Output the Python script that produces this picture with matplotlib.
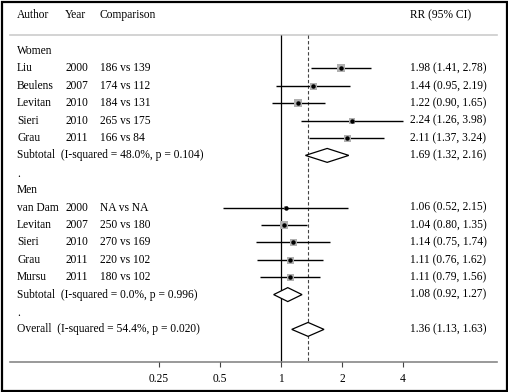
import numpy as np
import matplotlib
matplotlib.use("Agg")
import matplotlib.pyplot as plt
from matplotlib.patches import Polygon, Rectangle

plt.rcParams['font.family'] = ['Liberation Serif', 'DejaVu Serif']

# ---- data ----
women_authors = ["Liu", "Beulens", "Levitan", "Sieri", "Grau"]
women_years = ["2000", "2007", "2010", "2010", "2011"]
women_comp = ["186 vs 139", "174 vs 112", "184 vs 131", "265 vs 175", "166 vs 84"]
women_rr = [1.98, 1.44, 1.22, 2.24, 2.11]
women_lo = [1.41, 0.95, 0.90, 1.26, 1.37]
women_hi = [2.78, 2.19, 1.65, 3.98, 3.24]
women_w = [8, 7, 8, 6, 7]
women_sub = (1.69, 1.32, 2.16)
women_het = "(I-squared = 48.0%, p = 0.104)"

men_authors = ["van Dam", "Levitan", "Sieri", "Grau", "Mursu"]
men_years = ["2000", "2007", "2010", "2011", "2011"]
men_comp = ["NA vs NA", "250 vs 180", "270 vs 169", "220 vs 102", "180 vs 102"]
men_rr = [1.06, 1.04, 1.14, 1.11, 1.11]
men_lo = [0.52, 0.80, 0.75, 0.76, 0.79]
men_hi = [2.15, 1.35, 1.74, 1.62, 1.56]
men_w = [5, 8, 7, 7, 7]
men_sub = (1.08, 0.92, 1.27)
men_het = "(I-squared = 0.0%, p = 0.996)"

overall = (1.36, 1.13, 1.63)
overall_het = "(I-squared = 54.4%, p = 0.020)"

xticks = [0.25, 0.5, 1, 2, 4]
xticklabels = ["0.25", "0.5", "1", "2", "4"]

W, H = 508, 392
fig = plt.figure(figsize=(W / 100, H / 100), dpi=100)
ax = fig.add_axes([0, 0, 1, 1])
ax.set_xscale('log', base=2)
ppd = 61.0  # pixels per doubling
x1 = 281.0
ax.set_xlim(2 ** (-x1 / ppd), 2 ** ((W - x1) / ppd))
y0, dy = 51.0, 17.4
ax.set_ylim((H - y0) / dy, -y0 / dy)
ax.axis('off')

fs = 8.3
tr = ax.get_yaxis_transform()  # x in axes fraction, y in rows
cA, cY, cC, cR = 17 / W, 65 / W, 100 / W, 410 / W


def fmt(rr, lo, hi):
    return f"{rr:.2f} ({lo:.2f}, {hi:.2f})"


def diamond(row, rr, lo, hi):
    h = 0.4
    ax.add_patch(Polygon([(lo, row), (rr, row - h), (hi, row), (rr, row + h)],
                         closed=True, facecolor='white', edgecolor='black', lw=0.9, zorder=4))


# header
head_y = -2.07
ax.text(cA, head_y, "Author", transform=tr, fontsize=fs, va='center')
ax.text(cY, head_y, "Year", transform=tr, fontsize=fs, va='center')
ax.text(cC, head_y, "Comparison", transform=tr, fontsize=fs, va='center')
ax.text(cR, head_y, "RR (95% CI)", transform=tr, fontsize=fs, va='center')
ax.plot([10 / W, 497 / W], [-0.92, -0.92], transform=tr, color='#cccccc', lw=1.2)

axis_row = (362 - y0) / dy
ax.vlines(1, -0.92, axis_row, color='black', lw=0.9)
ax.vlines(overall[0], -0.92, axis_row, color='#444444', lw=0.8, linestyles=(0, (3, 2)))

groups = [
    ("Women", 0, women_authors, women_years, women_comp, women_rr, women_lo, women_hi, women_w, women_sub, women_het),
    ("Men", 8, men_authors, men_years, men_comp, men_rr, men_lo, men_hi, men_w, men_sub, men_het),
]
for name, start, au, yr, cp, rr, lo, hi, wt, sub, het in groups:
    ax.text(cA, start, name, transform=tr, fontsize=fs, va='center')
    for i in range(len(au)):
        r = start + 1 + i
        ax.text(cA, r, au[i], transform=tr, fontsize=fs, va='center')
        ax.text(cY, r, yr[i], transform=tr, fontsize=fs, va='center')
        ax.text(cC, r, cp[i], transform=tr, fontsize=fs, va='center')
        ax.text(cR, r, fmt(rr[i], lo[i], hi[i]), transform=tr, fontsize=fs, va='center')
        ax.hlines(r, lo[i], hi[i], color='black', lw=1.0, zorder=2)
        ax.plot(rr[i], r, 's', color='#b0b0b0', markersize=wt[i] * 0.72, markeredgewidth=0, zorder=3)
        ax.plot(rr[i], r, 'o', color='black', markersize=2.2, zorder=4)
    srow = start + 1 + len(au)
    ax.text(cA, srow, "Subtotal  " + het, transform=tr, fontsize=fs, va='center')
    ax.text(cR, srow, fmt(*sub), transform=tr, fontsize=fs, va='center')
    diamond(srow, *sub)
    ax.text(cA, srow + 1.05, ".", transform=tr, fontsize=fs, va='center')

orow = 16
ax.text(cA, orow, "Overall  " + overall_het, transform=tr, fontsize=fs, va='center')
ax.text(cR, orow, fmt(*overall), transform=tr, fontsize=fs, va='center')
diamond(orow, *overall)

# x axis
ax.plot([10 / W, 497 / W], [axis_row, axis_row], transform=tr, color='#888888', lw=1.2)
for t, lab in zip(xticks, xticklabels):
    ax.vlines(t, axis_row, axis_row + 0.3, color='#444444', lw=0.8)
    ax.text(t, axis_row + 0.95, lab, fontsize=fs, ha='center', va='center')

fig.add_artist(Rectangle((1.5 / W, 1.5 / H), 1 - 3 / W, 1 - 3 / H, transform=fig.transFigure,
                         fill=False, edgecolor='black', lw=1.6))

fig.savefig("out.png", dpi=100)
